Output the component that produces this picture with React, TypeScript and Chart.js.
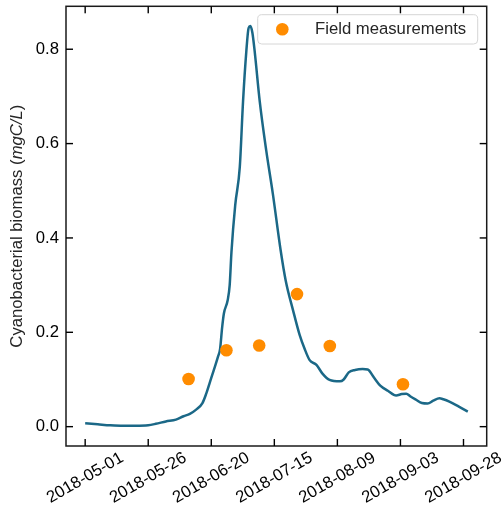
import React, { useEffect, useRef } from "react";
import { Chart, registerables } from "chart.js";

Chart.register(...registerables);

// Days counted from 2018-05-01
const modelDays = [
  0, 5, 10, 15, 20, 25, 28, 32, 36, 39, 41.5, 44, 46.5, 48, 49.5, 51, 52.7, 53.5, 54.3, 55,
  56.5, 57.3, 58, 59.5, 61.3, 62.6, 63.9, 64.8, 65.5, 66.3, 67.2, 69.2, 71.8, 74.4, 77.5,
  79.5, 82.5, 85, 87, 89, 91.7, 94, 96.9, 101, 102.5, 104.5, 107, 110, 112, 114.5, 117, 120,
  123.3, 125.5, 127.3, 129, 131.2, 133.5, 135.8, 138, 140.5, 142, 144.4, 148, 151.7,
];
const modelBiomass = [
  0.007, 0.005, 0.003, 0.002, 0.002, 0.003, 0.006, 0.011, 0.015, 0.022, 0.027, 0.036, 0.05,
  0.07, 0.095, 0.12, 0.149, 0.165, 0.21, 0.24, 0.268, 0.3, 0.37, 0.47, 0.55, 0.69, 0.796,
  0.845, 0.849, 0.835, 0.796, 0.69, 0.585, 0.494, 0.374, 0.31, 0.245, 0.195, 0.165, 0.141,
  0.131, 0.113, 0.099, 0.096, 0.1, 0.115, 0.12, 0.122, 0.121, 0.104, 0.087, 0.076, 0.066,
  0.069, 0.07, 0.064, 0.057, 0.05, 0.049, 0.055, 0.06, 0.058, 0.053, 0.043, 0.032,
];

const fieldDays = [41, 56, 69, 84, 97, 126];
const fieldBiomass = [0.101, 0.162, 0.172, 0.281, 0.171, 0.09];

const xTickDays = [0, 25, 50, 75, 100, 125, 150];
const xTickLabels = [
  "2018-05-01",
  "2018-05-26",
  "2018-06-20",
  "2018-07-15",
  "2018-08-09",
  "2018-09-03",
  "2018-09-28",
];
const yTicks = [0, 0.2, 0.4, 0.6, 0.8];

const FONT = '"Liberation Sans", Arial, sans-serif';
const FS = 16.7;

const decorPlugin = {
  id: "decor",
  afterDraw(chart: any) {
    const ctx = chart.ctx;
    const { left, right, top, bottom } = chart.chartArea;
    const xs = chart.scales.x;
    const ys = chart.scales.y;
    ctx.save();
    // spines
    ctx.strokeStyle = "#1a1a1a";
    ctx.lineWidth = 1.5;
    ctx.strokeRect(left, top, right - left, bottom - top);
    // inward ticks on all four sides
    ctx.fillStyle = "#000";
    const TL = 7;
    const TW = 1.4;
    xTickDays.forEach((d) => {
      const px = xs.getPixelForValue(d);
      ctx.fillRect(px - TW / 2, bottom - TL, TW, TL);
      ctx.fillRect(px - TW / 2, top, TW, TL);
    });
    yTicks.forEach((v) => {
      const py = ys.getPixelForValue(v);
      ctx.fillRect(left, py - TW / 2, TL, TW);
      ctx.fillRect(right - TL, py - TW / 2, TL, TW);
    });
    // x tick labels, rotated 30deg, centered at tick
    ctx.fillStyle = "#000";
    ctx.font = `${FS}px ${FONT}`;
    ctx.textAlign = "center";
    ctx.textBaseline = "middle";
    xTickDays.forEach((d, i) => {
      const px = xs.getPixelForValue(d);
      ctx.save();
      ctx.translate(px, 478);
      ctx.rotate((-30 * Math.PI) / 180);
      ctx.fillText(xTickLabels[i], 0, 0);
      ctx.restore();
    });
    // y axis label with italic unit
    const parts = [
      { t: "Cyanobacterial biomass (", it: false },
      { t: "mgC/L", it: true },
      { t: ")", it: false },
    ];
    let total = 0;
    const widths = parts.map((p) => {
      ctx.font = `${p.it ? "italic " : ""}${FS}px ${FONT}`;
      const w = ctx.measureText(p.t).width;
      total += w;
      return w;
    });
    ctx.save();
    ctx.translate(17, (top + bottom) / 2);
    ctx.rotate(-Math.PI / 2);
    ctx.textAlign = "left";
    ctx.textBaseline = "middle";
    ctx.fillStyle = "#262626";
    let cx = -total / 2;
    parts.forEach((p, i) => {
      ctx.font = `${p.it ? "italic " : ""}${FS}px ${FONT}`;
      ctx.fillText(p.t, cx, 0);
      cx += widths[i];
    });
    ctx.restore();
    // legend
    const lx = 257.7, ly = 14.7, lw = 220, lh = 29.3, r = 4;
    ctx.beginPath();
    ctx.moveTo(lx + r, ly);
    ctx.lineTo(lx + lw - r, ly);
    ctx.quadraticCurveTo(lx + lw, ly, lx + lw, ly + r);
    ctx.lineTo(lx + lw, ly + lh - r);
    ctx.quadraticCurveTo(lx + lw, ly + lh, lx + lw - r, ly + lh);
    ctx.lineTo(lx + r, ly + lh);
    ctx.quadraticCurveTo(lx, ly + lh, lx, ly + lh - r);
    ctx.lineTo(lx, ly + r);
    ctx.quadraticCurveTo(lx, ly, lx + r, ly);
    ctx.closePath();
    ctx.fillStyle = "rgba(255,255,255,0.8)";
    ctx.fill();
    ctx.strokeStyle = "#d6d6d6";
    ctx.lineWidth = 1;
    ctx.stroke();
    ctx.beginPath();
    ctx.arc(282.3, 29.3, 6.3, 0, Math.PI * 2);
    ctx.fillStyle = "#ff8c00";
    ctx.fill();
    ctx.fillStyle = "#262626";
    ctx.font = `${FS}px ${FONT}`;
    ctx.textAlign = "left";
    ctx.textBaseline = "middle";
    ctx.fillText("Field measurements", 315, 29.5);
    ctx.restore();
  },
};

export default function App() {
  const canvasRef = useRef<HTMLCanvasElement | null>(null);

  useEffect(() => {
    if (!canvasRef.current) return;
    const chart = new Chart(canvasRef.current, {
      type: "scatter",
      data: {
        datasets: [
          {
            label: "Field measurements",
            data: fieldDays.map((d, i) => ({ x: d, y: fieldBiomass[i] })),
            backgroundColor: "#ff8c00",
            borderWidth: 0,
            pointRadius: 6.3,
            showLine: false,
            order: 0,
          },
          {
            label: "Model",
            data: modelDays.map((d, i) => ({ x: d, y: modelBiomass[i] })),
            borderColor: "#1b6887",
            borderWidth: 2.5,
            pointRadius: 0,
            showLine: true,
            cubicInterpolationMode: "monotone",
            order: 1,
          } as any,
        ],
      },
      options: {
        responsive: false,
        animation: false,
        devicePixelRatio: 1,
        layout: { padding: { top: 5, right: 17.3, left: 0, bottom: 0 } },
        plugins: { legend: { display: false }, tooltip: { enabled: false } },
        scales: {
          x: {
            type: "linear",
            min: -7.6,
            max: 159.2,
            grid: { display: false },
            border: { display: false },
            ticks: { display: false },
            afterFit: (s: any) => {
              s.height = 68;
              s.paddingLeft = 0;
              s.paddingRight = 0;
            },
          },
          y: {
            type: "linear",
            min: -0.041,
            max: 0.891,
            grid: { display: false, drawTicks: false },
            border: { display: false },
            afterBuildTicks: (s: any) => {
              s.ticks = yTicks.map((v) => ({ value: v }));
            },
            ticks: {
              padding: 7,
              color: "#000",
              font: { family: FONT, size: FS },
              callback: (v: any) => Number(v).toFixed(1),
            },
            afterFit: (s: any) => {
              s.width = 66;
              s.paddingTop = 0;
              s.paddingBottom = 0;
            },
          },
        },
      },
      plugins: [decorPlugin],
    });
    return () => chart.destroy();
  }, []);

  return (
    <div style={{ position: "fixed", left: 0, top: 0, width: 504, height: 514, background: "#fff" }}>
      <canvas ref={canvasRef} width={504} height={514} />
    </div>
  );
}
